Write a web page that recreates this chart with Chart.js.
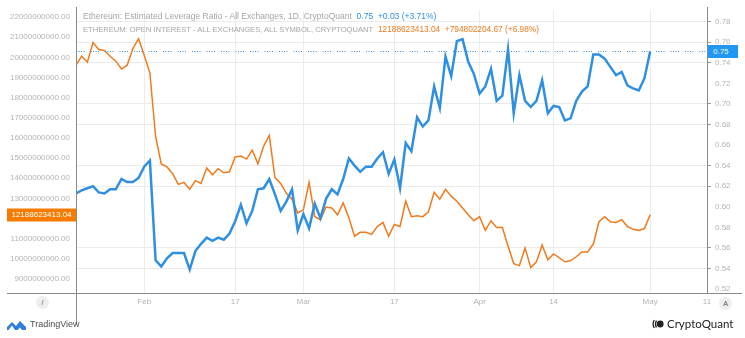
<!DOCTYPE html>
<html lang="en">
<head>
<meta charset="utf-8">
<title>Ethereum: Estimated Leverage Ratio / Open Interest</title>
<script src="https://cdn.jsdelivr.net/npm/chart.js@4.4.0/dist/chart.umd.min.js"></script>
<style>
  body { margin: 0; background: #fff; }
  #wrap { position: relative; width: 745px; height: 338px; overflow: hidden; font-family: "Liberation Sans", Arial, sans-serif; }
  #grafica { position: absolute; left: 0; top: 0; }
  .leyenda { position: absolute; left: 83px; font-size: 8.5px; color: #a6a6a6; white-space: nowrap; }
  .mayus { font-size: 7.6px; }
  .azul { color: #2f8fe0; }
  .naranja { color: #f07a1c; font-size: 8.3px; }
  .boton { position: absolute; width: 13px; height: 13px; border-radius: 50%; background: #eeeeee;
           font-size: 7px; line-height: 13px; text-align: center; color: #555; }
  #tv { position: absolute; left: 7px; top: 319px; font-size: 9px; color: #505050; white-space: nowrap; }
  #tv svg { vertical-align: middle; margin-right: 4px; }
  #cq { position: absolute; left: 652px; top: 317px; font-family: Lato, "Open Sans", sans-serif; font-size: 11.5px; color: #222; white-space: nowrap; }
  #cq svg { vertical-align: -1px; margin-right: 3px; }
</style>
</head>
<body>
<div id="wrap">
  <canvas id="grafica" width="745" height="338"></canvas>
  <div class="leyenda" style="top:11px">Ethereum: Estimated Leverage Ratio - All Exchanges, 1D, CryptoQuant&nbsp; <span class="azul">0.75&nbsp; +0.03 (+3.71%)</span></div>
  <div class="leyenda" style="top:24px"><span class="mayus">ETHEREUM: OPEN INTEREST - ALL EXCHANGES, ALL SYMBOL, CRYPTOQUANT</span>&nbsp; <span class="naranja">12188623413.04&nbsp; +794802204.67 (+6.98%)</span></div>
  <div class="boton" style="left:36px; top:296px">/</div>
  <div class="boton" style="left:719px; top:297px">A</div>
  <div id="tv"><svg width="19" height="10" viewBox="0 0 19 10"><path d="M0 10 L0 7 L5 2 L9 6 L13 1 L19 7 L19 10 L15 10 L13 7.5 L10.5 10 Z M5 5.5 L1.5 10 L8 10 Z" fill="#2e7fd8"/></svg>TradingView</div>
  <div id="cq"><svg width="12" height="10" viewBox="0 0 12 10"><path d="M2.2 1 Q0 5 2.2 9" stroke="#222" stroke-width="1.3" fill="none"/><path d="M4.4 1.5 Q2.6 5 4.4 8.5" stroke="#222" stroke-width="1.3" fill="none"/><circle cx="8.2" cy="5" r="3.4" fill="#222"/></svg>CryptoQuant</div>
</div>
<script>
// Días desde el 20 de enero de 2021 (0) hasta el 1 de mayo (101)
const tickDias = [12, 28, 40, 56, 71, 84, 101, 111];
const tickTextos = ['Feb', '17', 'Mar', '17', 'Apr', '14', 'May', '11'];

// Ratio de apalancamiento estimado (eje derecho)
const apalancamiento = [
  0.613, 0.616, 0.618, 0.620, 0.614, 0.613, 0.617, 0.617, 0.627, 0.624,
  0.624, 0.628, 0.639, 0.645, 0.548, 0.542, 0.550, 0.555, 0.555, 0.555,
  0.539, 0.557, 0.564, 0.570, 0.567, 0.570, 0.568, 0.574, 0.586, 0.602,
  0.584, 0.596, 0.617, 0.618, 0.627, 0.612, 0.596, 0.605, 0.617, 0.577,
  0.593, 0.579, 0.603, 0.589, 0.608, 0.617, 0.612, 0.627, 0.647, 0.640,
  0.634, 0.639, 0.639, 0.647, 0.653, 0.632, 0.646, 0.618, 0.662, 0.654,
  0.687, 0.678, 0.684, 0.717, 0.696, 0.746, 0.727, 0.761, 0.763, 0.741,
  0.729, 0.710, 0.717, 0.734, 0.703, 0.708, 0.753, 0.691, 0.728, 0.703,
  0.697, 0.703, 0.723, 0.691, 0.698, 0.697, 0.684, 0.686, 0.703, 0.712,
  0.717, 0.748, 0.748, 0.744, 0.736, 0.728, 0.731, 0.718, 0.715, 0.713,
  0.725, 0.751
];

// Open interest en miles de millones (eje izquierdo)
const openInterest = [
  19.61, 20.05, 19.76, 20.73, 20.39, 20.34, 20.05, 19.81, 19.42, 19.61,
  20.44, 20.92, 20.10, 19.22, 16.07, 14.71, 14.56, 14.22, 13.69, 13.79,
  13.45, 13.88, 13.74, 14.51, 14.17, 14.47, 14.27, 14.32, 15.05, 15.10,
  14.95, 15.39, 14.71, 15.58, 16.12, 14.03, 13.74, 13.25, 12.96, 12.28,
  12.43, 13.79, 12.09, 11.94, 12.57, 12.52, 12.18, 12.77, 12.04, 11.12,
  11.31, 11.31, 11.21, 11.60, 11.80, 11.12, 11.70, 11.60, 12.86, 12.09,
  12.14, 12.09, 12.33, 13.30, 12.96, 13.45, 13.11, 12.86, 12.52, 12.18,
  11.89, 12.09, 11.41, 11.89, 11.55, 11.55, 10.63, 9.76, 9.66, 10.53,
  9.56, 9.85, 10.68, 9.95, 10.24, 10.05, 9.85, 9.90, 10.10, 10.34,
  10.34, 10.73, 11.84, 12.09, 11.84, 11.80, 11.94, 11.60, 11.46, 11.41,
  11.50, 12.188623413
];

const ticksIzq = [9, 10, 11, 12, 13, 14, 15, 16, 17, 18, 19, 20, 21, 22];
const ticksDer = [0.52, 0.54, 0.56, 0.58, 0.60, 0.62, 0.64, 0.66, 0.68, 0.70, 0.72, 0.74, 0.76, 0.78];
// solo algunas marcas del eje derecho llevan línea de guía
const guiasDer = ['0.54', '0.56', '0.62', '0.64', '0.68', '0.70', '0.74', '0.76', '0.78'];

const colorAzul = '#2f8fe0';
const colorNaranja = '#f07a1c';
const fuente = { family: '"Liberation Sans", Arial, sans-serif', size: 8 };

// Ejes, línea punteada del último valor y etiquetas de precio
const decoracion = {
    id: 'decoracion',
    afterDraw(chart) {
        const ctx = chart.ctx;
        const area = chart.chartArea;
        ctx.save();
        ctx.strokeStyle = '#8a8a8a';
        ctx.lineWidth = 1;
        ctx.beginPath();
        ctx.moveTo(7, area.bottom + 0.5); ctx.lineTo(742, area.bottom + 0.5);
        ctx.moveTo(area.left + 0.5, 7); ctx.lineTo(area.left + 0.5, 325);
        ctx.moveTo(area.right + 0.5, 7); ctx.lineTo(area.right + 0.5, area.bottom);
        ctx.stroke();

        const ultimoLev = apalancamiento[apalancamiento.length - 1];
        const yAzul = Math.round(chart.scales.yLev.getPixelForValue(ultimoLev)) + 0.5;
        ctx.strokeStyle = colorAzul;
        ctx.setLineDash([1, 1.5, 1, 1.5, 1, 1.5, 1, 6]);
        ctx.beginPath();
        ctx.moveTo(area.left, yAzul); ctx.lineTo(area.right, yAzul);
        ctx.stroke();
        ctx.setLineDash([]);

        ctx.font = '8px "Liberation Sans", Arial, sans-serif';
        ctx.textAlign = 'center';
        ctx.textBaseline = 'middle';
        ctx.fillStyle = '#2196f3';
        ctx.fillRect(area.right + 1, yAzul - 6.5, 30, 13);
        ctx.fillStyle = '#fff';
        ctx.fillText(ultimoLev.toFixed(2), area.right + 14, yAzul);

        const ultimoOI = openInterest[openInterest.length - 1];
        const yNaranja = Math.round(chart.scales.yOI.getPixelForValue(ultimoOI * 1e9));
        ctx.fillStyle = '#f57c00';
        ctx.fillRect(7, yNaranja - 6.5, area.left - 7, 13);
        ctx.fillStyle = '#fff';
        ctx.fillText('12188623413.04', (7 + area.left) / 2, yNaranja);
        ctx.restore();
    }
};

new Chart(document.getElementById('grafica'), {
    type: 'line',
    data: {
        datasets: [{
            label: 'Estimated Leverage Ratio',
            data: apalancamiento.map((v, i) => ({ x: i, y: v })),
            yAxisID: 'yLev',
            borderColor: colorAzul,
            borderWidth: 2.5,
            pointRadius: 0,
            tension: 0
        }, {
            label: 'Open Interest',
            data: openInterest.map((v, i) => ({ x: i, y: v * 1e9 })),
            yAxisID: 'yOI',
            borderColor: colorNaranja,
            borderWidth: 1.5,
            pointRadius: 0,
            tension: 0
        }]
    },
    options: {
        responsive: false,
        animation: false,
        layout: { padding: { top: 6, left: 0, right: 0, bottom: 0 } },
        plugins: { legend: { display: false }, tooltip: { enabled: false } },
        scales: {
            x: {
                type: 'linear',
                min: 0,
                max: 111,
                afterBuildTicks: s => { s.ticks = tickDias.map(v => ({ value: v })); },
                afterFit: s => { s.height = 45; },
                ticks: {
                    autoSkip: false,
                    maxRotation: 0,
                    padding: 4,
                    color: '#b4b4b4',
                    font: fuente,
                    callback: v => tickTextos[tickDias.indexOf(v)]
                },
                grid: { color: '#ebebeb', drawTicks: false },
                border: { display: false }
            },
            yOI: {
                position: 'left',
                min: 8.3e9,
                max: 22.31e9,
                afterBuildTicks: s => { s.ticks = ticksIzq.map(v => ({ value: v * 1e9 })); },
                afterFit: s => { s.width = 76; },
                ticks: {
                    autoSkip: false,
                    padding: 6,
                    color: '#b4b4b4',
                    font: fuente,
                    callback: v => v.toFixed(2)
                },
                grid: { drawOnChartArea: false, drawTicks: false },
                border: { display: false }
            },
            yLev: {
                position: 'right',
                min: 0.5162,
                max: 0.7905,
                afterBuildTicks: s => { s.ticks = ticksDer.map(v => ({ value: v })); },
                afterFit: s => { s.width = 38; },
                ticks: {
                    autoSkip: false,
                    padding: 4,
                    color: '#b4b4b4',
                    font: fuente,
                    callback: v => v.toFixed(2)
                },
                grid: {
                    tickLength: 4,
                    color: c => (c.tick && guiasDer.includes(c.tick.value.toFixed(2))) ? '#ebebeb' : 'rgba(0,0,0,0)',
                    tickColor: c => (c.tick && guiasDer.includes(c.tick.value.toFixed(2))) ? '#9a9a9a' : 'rgba(0,0,0,0)'
                },
                border: { display: false }
            }
        }
    },
    plugins: [decoracion]
});
</script>
</body>
</html>
